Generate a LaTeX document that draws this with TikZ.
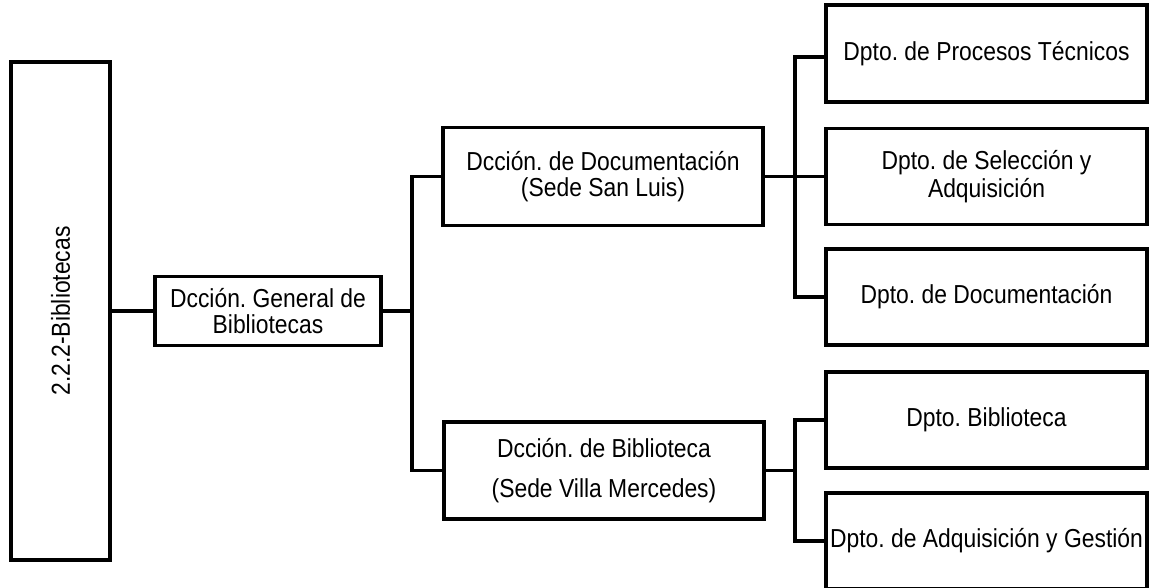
\documentclass[tikz,border=0pt]{standalone}
\usepackage{fontspec}
\setmainfont{Liberation Sans}[FakeStretch=0.88]
\frenchspacing
\begin{document}
\begin{tikzpicture}[x=1pt,y=-1pt,
  box/.style={draw=black,line width=3.6pt,rectangle,inner sep=0pt,align=center,
    font=\fontsize{26}{26}\selectfont},
  conn/.style={draw=black,line width=3.4pt}]
\useasboundingbox (0,0) rectangle (1150,588);
\clip (0,0) rectangle (1150,588);
\fill[white] (0,0) rectangle (1150,588);
% nodes
\node[box,minimum width=99pt,minimum height=498pt] (root) at (60.5,311) {};
\node[rotate=90,font=\fontsize{26}{26}\selectfont] (rootlbl) at (root.center) {2.2.2-Bibliotecas};
\node[box,minimum width=226pt,minimum height=69pt] (gen) at (268,311) {Dcción. General de\\Bibliotecas};
\node[box,minimum width=320pt,minimum height=98pt] (doc) at (603,176.5) {Dcción. de Documentación\\(Sede San Luis)};
\node[box,minimum width=320pt,minimum height=97pt,font=\fontsize{26}{40}\selectfont] (bib) at (604,470.5) {Dcción. de Biblioteca\\(Sede Villa Mercedes)};
\node[box,minimum width=321pt,minimum height=97pt] (r1) at (986.5,53.5) {Dpto. de Procesos Técnicos};
\node[box,minimum width=321pt,minimum height=96pt,font=\fontsize{26}{28}\selectfont] (r2) at (986.5,176.5) {Dpto. de Selección y\\Adquisición};
\node[box,minimum width=321pt,minimum height=96pt] (r3) at (986.5,297) {Dpto. de Documentación};
\node[box,minimum width=321pt,minimum height=96pt] (r4) at (986.5,420) {Dpto. Biblioteca};
\node[box,minimum width=321pt,minimum height=96pt] (r5) at (986.5,541) {Dpto. de Adquisición y Gestión};
% bus coordinates
\coordinate (b1) at (412,311);
\coordinate (b2) at (795,176.5);
\coordinate (b3) at (795,470.5);
% connectors
\draw[conn] (root.east) -- (gen.west);
\draw[conn] (gen.east) -- (b1);
\draw[conn] (doc.west) -| (b1) |- (bib.west);
\draw[conn] ([yshift=-3.5pt]r1.west) -| (b2) |- (r3.west);
\draw[conn] (doc.east) -- (r2.west);
\draw[conn] (r4.west) -| (b3) |- (r5.west);
\draw[conn] (bib.east) -- (b3);
\end{tikzpicture}
\end{document}
